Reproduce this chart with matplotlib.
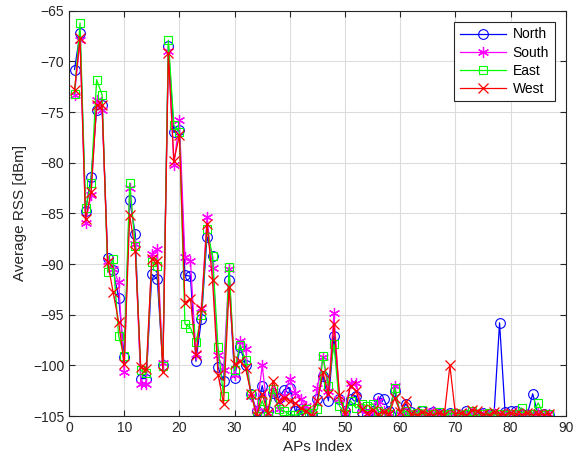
import numpy as np
import matplotlib
matplotlib.use("Agg")
import matplotlib.pyplot as plt

plt.rcParams['font.family'] = ['Liberation Sans', 'DejaVu Sans']

# AP index 1..87
ap_index = np.arange(1, 88)

north = [-70.8, -67.2, -84.8, -81.4, -74.8, -74.3, -89.4, -90.6, -93.3, -99.2,
         -83.7, -87.0, -101.3, -101.3, -91.0, -91.5, -100.0, -68.5, -77.0, -76.8,
         -91.1, -91.2, -99.6, -95.4, -87.3, -89.2, -100.2, -101.5, -91.6, -101.2,
         -98.2, -100.0, -102.8, -104.5, -102.0, -104.5, -102.7, -103.2, -102.4, -102.2,
         -104.5, -104.3, -104.6, -104.8, -103.3, -101.0, -103.5, -97.1, -103.3, -104.5,
         -103.3, -103.0, -104.6, -104.8, -104.5, -103.2, -103.3, -104.5, -102.5,
         -104.8, -103.8, -104.6, -104.8, -104.5, -104.9, -104.6, -104.8, -104.9, -104.7,
         -104.8, -104.9, -104.5, -104.8, -104.9, -104.7, -104.9, -104.8, -95.8, -104.6,
         -104.5, -104.5, -104.8, -104.9, -102.8, -104.9, -104.8, -104.9]

south = [-73.3, -67.9, -85.9, -83.2, -73.8, -74.8, -89.7, -90.5, -91.8, -100.7,
         -82.5, -88.0, -101.8, -101.8, -89.0, -88.5, -99.8, -69.0, -80.2, -75.8,
         -89.3, -89.7, -98.9, -94.3, -85.4, -90.4, -99.0, -100.5, -90.5, -100.9,
         -97.6, -98.4, -103.0, -104.5, -100.0, -104.7, -102.5, -104.3, -103.0, -101.3,
         -102.7, -103.3, -104.0, -104.8, -102.2, -99.2, -102.5, -94.8, -103.3, -104.6,
         -101.7, -101.7, -104.2, -104.8, -104.6, -103.5, -104.5, -104.7, -102.0,
         -104.8, -104.6, -104.9, -104.7, -104.9, -104.8, -104.5, -104.9, -104.8, -104.9,
         -104.7, -104.9, -104.8, -104.6, -104.9, -104.8, -104.9, -104.7, -104.9, -104.8,
         -104.9, -104.6, -104.9, -104.8, -104.9, -104.7, -104.9, -104.8]

east = [-73.2, -66.2, -84.5, -82.0, -71.8, -73.3, -90.8, -89.5, -97.1, -99.1,
        -82.0, -88.2, -100.5, -100.8, -89.8, -90.2, -100.1, -67.9, -76.3, -77.0,
        -95.9, -96.3, -97.7, -95.0, -86.5, -89.2, -98.2, -103.0, -90.3, -100.5,
        -98.0, -99.5, -102.8, -105.0, -103.5, -105.0, -102.3, -104.3, -104.5, -104.9,
        -104.9, -104.8, -104.3, -104.7, -104.3, -99.1, -102.0, -97.9, -104.0, -104.8,
        -103.5, -104.2, -103.8, -104.0, -103.8, -104.5, -104.7, -104.8, -102.2,
        -104.8, -104.5, -104.9, -104.7, -104.4, -104.9, -104.8, -104.6, -104.9, -104.8,
        -104.7, -104.9, -104.8, -104.5, -104.9, -104.8, -104.7, -104.9, -104.8, -104.9,
        -104.8, -104.8, -104.2, -104.9, -104.8, -103.7, -104.9, -104.8]

west = [-72.8, -67.7, -85.6, -82.9, -74.3, -74.3, -89.8, -92.8, -95.7, -99.9,
        -85.2, -88.7, -100.2, -100.4, -89.5, -89.7, -100.7, -69.2, -79.8, -77.3,
        -93.8, -93.4, -99.0, -94.4, -86.0, -91.6, -100.9, -103.8, -92.3, -99.9,
        -99.6, -100.3, -102.8, -105.0, -102.8, -104.7, -101.5, -103.5, -103.2, -103.5,
        -103.7, -104.2, -104.5, -105.0, -103.5, -100.7, -102.8, -95.9, -102.9, -104.8,
        -102.0, -102.5, -104.3, -104.7, -104.4, -104.8, -104.6, -104.8, -103.2,
        -104.6, -103.5, -104.8, -104.9, -104.6, -104.8, -104.9, -104.7, -104.9, -100.0,
        -104.8, -104.7, -104.9, -104.4, -104.5, -104.8, -104.9, -104.6, -104.8, -104.9,
        -104.7, -104.8, -104.9, -104.7, -104.9, -104.8, -104.9, -104.8]

fig = plt.figure(figsize=(5.75, 4.68), dpi=100)
ax = fig.add_axes([0.12, 0.111, 0.864, 0.866])

asterisk = (6, 2, 0)  # matlab style '*'
ax.plot(ap_index, north, '-', color='#0000ff', marker='o', lw=0.9, ms=7,
        mfc='none', mew=0.8, label='North')
ax.plot(ap_index, south, '-', color='#ff00ff', marker=asterisk, lw=0.9, ms=8,
        mfc='none', mew=0.9, label='South')
ax.plot(ap_index, east, '-', color='#00ff00', marker='s', lw=0.9, ms=6,
        mfc='none', mew=0.8, label='East')
ax.plot(ap_index, west, '-', color='#ff0000', marker='x', lw=0.9, ms=7,
        mfc='none', mew=0.9, label='West')

ax.set_xlim(0, 90)
ax.set_ylim(-105, -65)
ax.set_xticks(range(0, 91, 10))
ax.set_yticks(range(-105, -64, 5))
ax.grid(True, color='#dcdcdc', lw=0.8)
ax.set_axisbelow(True)
ax.tick_params(direction='in', top=True, right=True, labelsize=10,
               colors='#262626', length=4)
for s in ax.spines.values():
    s.set_color('#262626')
    s.set_linewidth(0.8)

ax.set_xlabel('APs Index', fontsize=11, color='#262626')
ax.set_ylabel('Average RSS [dBm]', fontsize=11, color='#262626')

leg = ax.legend(loc='upper right', fontsize=10, fancybox=False, framealpha=1,
                edgecolor='#262626', handlelength=3.3, labelspacing=0.3,
                borderaxespad=0.8, handletextpad=0.5)
leg.get_frame().set_linewidth(0.8)

plt.savefig('out.png', dpi=100)
